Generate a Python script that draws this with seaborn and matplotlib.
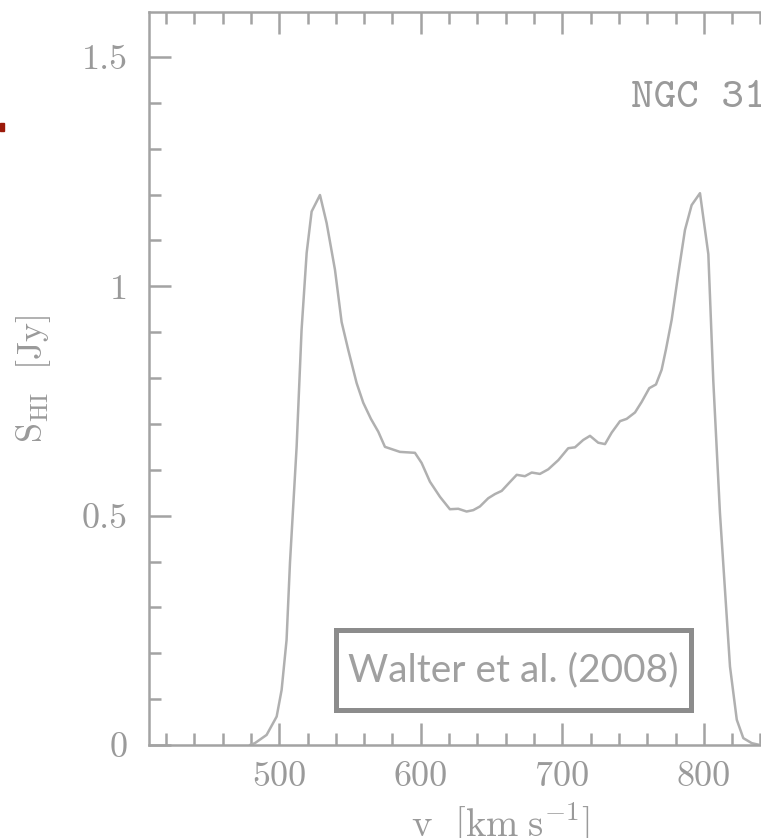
import numpy as np
import pandas as pd
import matplotlib
matplotlib.use("Agg")
import matplotlib.pyplot as plt
from matplotlib.patches import Rectangle
from matplotlib.ticker import FixedLocator, FixedFormatter, MultipleLocator
import seaborn as sns

# ---- data ----
velocity = [479.3, 482.8, 491.1, 498.2, 501.7, 505.2, 507.6, 512.3, 515.8, 519.4,
            522.9, 528.8, 533.5, 539.4, 544.1, 548.8, 554.7, 559.4, 564.8, 570.0,
            574.7, 585.3, 595.9, 600.6, 606.5, 613.6, 620.6, 626.5, 632.4, 637.1,
            641.8, 647.7, 652.4, 657.2, 662.3, 667.8, 673.6, 678.4, 684.2, 690.1,
            697.2, 704.2, 709.0, 714.8, 719.6, 725.4, 730.2, 734.9, 740.8, 745.5,
            751.4, 756.1, 761.5, 766.2, 770.2, 773.3, 777.3, 782.0, 786.7, 791.4,
            797.3, 803.2, 806.7, 811.4, 818.5, 823.3, 827.9, 833.9, 839.7, 850.0]
flux = [0.000, 0.004, 0.022, 0.062, 0.120, 0.229, 0.397, 0.650, 0.905, 1.073,
        1.163, 1.199, 1.138, 1.036, 0.922, 0.861, 0.789, 0.746, 0.711, 0.683,
        0.650, 0.639, 0.637, 0.615, 0.574, 0.541, 0.514, 0.515, 0.509, 0.512,
        0.520, 0.538, 0.547, 0.554, 0.571, 0.589, 0.586, 0.594, 0.591, 0.601,
        0.621, 0.647, 0.649, 0.665, 0.674, 0.659, 0.656, 0.681, 0.706, 0.711,
        0.725, 0.748, 0.778, 0.786, 0.818, 0.863, 0.927, 1.028, 1.123, 1.177,
        1.203, 1.070, 0.794, 0.506, 0.171, 0.055, 0.015, 0.004, 0.000, 0.000]
x_ticks = [500, 600, 700, 800]
x_tick_labels = ["500", "600", "700", "800"]
y_ticks = [0, 0.5, 1, 1.5]
y_tick_labels = ["0", "0.5", "1", "1.5"]
galaxy = "NGC 3198"
source = "Walter et al. (2008)"

df = pd.DataFrame({"v": velocity, "S": flux})

sns.set_style("ticks")
plt.rcParams["font.family"] = ["cmr10", "DejaVu Serif"]
plt.rcParams["mathtext.fontset"] = "cm"
plt.rcParams["axes.unicode_minus"] = False

GRAY = "#a3a3a3"
TXT = "#9a9a9a"

W, H = 761, 838
fig = plt.figure(figsize=(W / 100, H / 100), dpi=100)
ax = fig.add_axes([149 / W, 1 - 745 / H, 702 / W, 733 / H])

sns.lineplot(data=df, x="v", y="S", ax=ax, color="#b0b0b0", lw=1.8,
             estimator=None, sort=False)

ax.set_xlim(408, 904)
ax.set_ylim(0, 1.598)

for s in ax.spines.values():
    s.set_color(GRAY)
    s.set_linewidth(1.8)

ax.xaxis.set_major_locator(FixedLocator(x_ticks))
ax.xaxis.set_major_formatter(FixedFormatter(x_tick_labels))
ax.yaxis.set_major_locator(FixedLocator(y_ticks))
ax.yaxis.set_major_formatter(FixedFormatter(y_tick_labels))
ax.xaxis.set_minor_locator(MultipleLocator(20))
ax.yaxis.set_minor_locator(MultipleLocator(0.1))

ax.tick_params(which="both", direction="in", top=True, right=True,
               color=GRAY, width=1.8)
ax.tick_params(which="major", length=16)
ax.tick_params(which="minor", length=8.3)
ax.tick_params(axis="x", which="major", pad=12, labelsize=26, labelcolor=TXT)
ax.tick_params(axis="y", which="major", pad=15, labelsize=26, labelcolor=TXT)

ax.set_xlabel(r"$\mathrm{v\ \ [km\;s^{-1}]}$", fontsize=28, color=TXT)
ax.set_ylabel(r"$\mathrm{S_{\mathrm{HI}}\ \ [Jy]}$", fontsize=26, color=TXT)
ax.xaxis.set_label_coords(0.5, -0.076)
ax.yaxis.set_label_coords(-0.137, 0.5)

ax.text((631 - 149) / 702, (745 - 107) / 733, galaxy, transform=ax.transAxes,
        family="cmtt10", fontsize=31, color=TXT, ha="left", va="baseline")

ax.add_patch(Rectangle((0.2657, 0.0484), 0.5057, 0.1091, transform=ax.transAxes,
                       fill=True, fc="white", ec="#8c8c8c", lw=3.6, zorder=5))
ax.text(0.5185, 0.1023, source, transform=ax.transAxes, family="Lato",
        fontweight="normal", fontsize=28, color="#a0a0a0", ha="center",
        va="center", zorder=6)

fig.patches.append(Rectangle((0, 1 - 131 / H), 4 / W, 8 / H,
                             transform=fig.transFigure, color="#9b1a0a"))

fig.savefig("out.png", dpi=100)
